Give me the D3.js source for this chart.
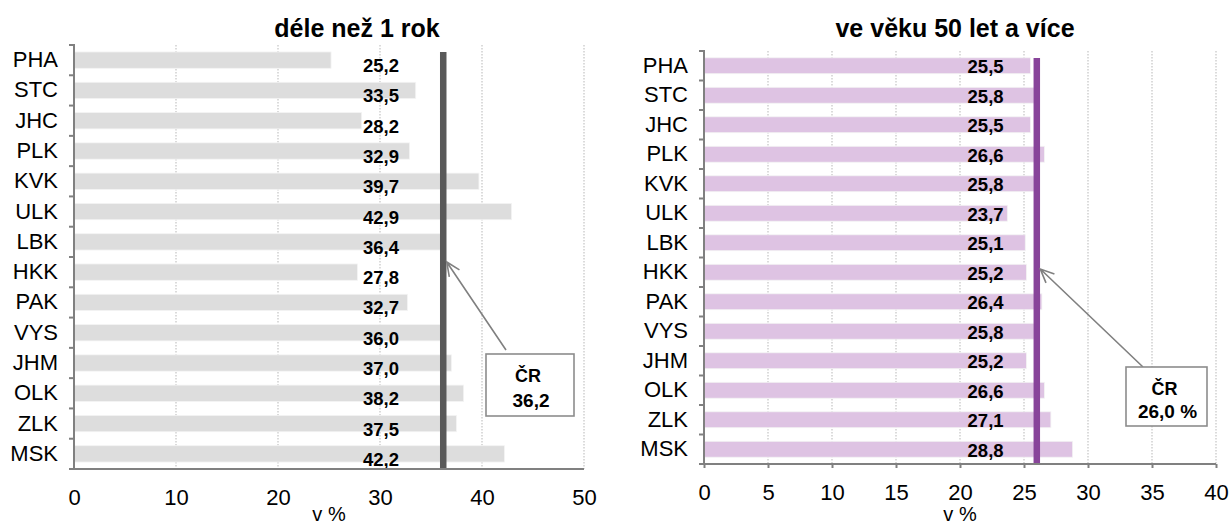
<!DOCTYPE html>
<html>
<head>
<meta charset="utf-8">
<script src="https://cdn.jsdelivr.net/npm/d3@7"></script>
<style>
  body { margin: 0; background: #fff; }
  text { font-family: "Liberation Sans", Arial, sans-serif; fill: #000; }
</style>
</head>
<body>
<svg id="chart" width="1231" height="528"></svg>
<script>
// kraje
const regions = ["PHA", "STC", "JHC", "PLK", "KVK", "ULK", "LBK", "HKK", "PAK", "VYS", "JHM", "OLK", "ZLK", "MSK"];

// podil nezamestnanych déle než 1 rok (v %)
const longTerm = [25.2, 33.5, 28.2, 32.9, 39.7, 42.9, 36.4, 27.8, 32.7, 36.0, 37.0, 38.2, 37.5, 42.2];
// podil nezamestnanych ve věku 50 let a více (v %)
const aged50 = [25.5, 25.8, 25.5, 26.6, 25.8, 23.7, 25.1, 25.2, 26.4, 25.8, 25.2, 26.6, 27.1, 28.8];

const ticksLong = [0, 10, 20, 30, 40, 50];
const ticksAged = [0, 5, 10, 15, 20, 25, 30, 35, 40];

const crLong = 36.2;
const crAged = 26.0;

const svg = d3.select("#chart");
const fmt = v => d3.format(".1f")(v).replace(".", ",");

function drawPanel(o) {
  const x = d3.scaleLinear().domain([0, o.max]).range([o.x0, o.x1]);
  const y = d3.scaleBand().domain(regions).range([o.y0, o.y1])
    .paddingInner(0.46).paddingOuter(0.23);
  const step = y.step();
  const g = svg.append("g");

  // title
  g.append("text")
    .attr("x", o.titleX).attr("y", 37)
    .attr("text-anchor", "middle")
    .style("font-size", "25px").style("font-weight", "bold")
    .text(o.title);

  // dotted gridlines
  g.append("g").selectAll("line")
    .data(o.ticks.filter(t => t > 0))
    .join("line")
    .attr("x1", d => x(d)).attr("x2", d => x(d))
    .attr("y1", o.y0).attr("y2", o.y1)
    .attr("stroke", "#c4c4c4").attr("stroke-width", 1.2)
    .attr("stroke-dasharray", "1.5,1.5");

  // bars
  g.append("g").selectAll("rect")
    .data(o.values)
    .join("rect")
    .attr("x", x(0))
    .attr("y", (d, i) => y(regions[i]))
    .attr("width", d => x(d) - x(0))
    .attr("height", y.bandwidth())
    .attr("fill", o.barColor)
    .attr("stroke", "#f4f4f4").attr("stroke-width", 0.8);

  // value labels
  g.append("g").selectAll("text")
    .data(o.values)
    .join("text")
    .attr("x", x(o.labelAt))
    .attr("y", (d, i) => y(regions[i]) + y.bandwidth() / 2 + o.labelDy)
    .attr("dy", "0.35em")
    .attr("text-anchor", "middle")
    .style("font-size", "18.5px").style("font-weight", "bold")
    .text(d => fmt(d));

  // CR line
  g.append("line")
    .attr("x1", x(o.cr)).attr("x2", x(o.cr))
    .attr("y1", o.lineTop).attr("y2", o.y1)
    .attr("stroke", o.lineColor).attr("stroke-width", 6.5);

  // axes
  const xa = g.append("g")
    .attr("transform", `translate(0,${o.y1})`)
    .call(d3.axisBottom(x).tickValues(o.ticks).tickSize(o.xTick).tickPadding(20 - o.xTick));
  xa.select(".domain").remove();
  xa.selectAll("line").attr("stroke", "#808080").attr("stroke-width", 2);
  xa.selectAll("text").style("font-size", "22px").attr("font-family", null);

  const ya = g.append("g")
    .attr("transform", `translate(${o.x0},0)`)
    .call(d3.axisLeft(y).tickSize(0).tickPadding(16));
  ya.select(".domain").remove();
  ya.selectAll("text").style("font-size", "22px").attr("font-family", null);

  // band boundary ticks
  g.append("g").selectAll("line")
    .data(d3.range(regions.length + 1))
    .join("line")
    .attr("x1", o.x0 - 5).attr("x2", o.x0)
    .attr("y1", i => o.y0 + i * step).attr("y2", i => o.y0 + i * step)
    .attr("stroke", "#808080").attr("stroke-width", 2);

  g.append("line")
    .attr("x1", o.x0).attr("x2", o.x0).attr("y1", o.y0 - 1).attr("y2", o.y1 + 1)
    .attr("stroke", "#808080").attr("stroke-width", 2);
  g.append("line")
    .attr("x1", o.x0).attr("x2", o.x1).attr("y1", o.y1).attr("y2", o.y1)
    .attr("stroke", "#808080").attr("stroke-width", 2);

  // axis title
  g.append("text")
    .attr("x", (o.x0 + o.x1) / 2).attr("y", 521)
    .attr("text-anchor", "middle")
    .style("font-size", "20px")
    .text("v %");

  // callout arrow
  const a = o.callout;
  const tipX = x(o.cr) + 3.5, tipY = a.tipY;
  const ang = Math.atan2(a.fromY - tipY, a.fromX - tipX);
  const arm = 15, spread = 0.42;
  g.append("path")
    .attr("d", `M${a.fromX},${a.fromY}L${tipX},${tipY}` +
      `M${tipX + arm * Math.cos(ang - spread)},${tipY + arm * Math.sin(ang - spread)}L${tipX},${tipY}` +
      `L${tipX + arm * Math.cos(ang + spread)},${tipY + arm * Math.sin(ang + spread)}`)
    .attr("fill", "none").attr("stroke", "#808080").attr("stroke-width", 1.6);

  g.append("rect")
    .attr("x", a.bx).attr("y", a.by).attr("width", a.bw).attr("height", a.bh)
    .attr("fill", "#fff").attr("stroke", "#8c8c8c").attr("stroke-width", 1.6);
  g.append("text")
    .attr("x", a.bx + a.bw / 2 - 2).attr("y", a.by + a.l1)
    .attr("text-anchor", "middle")
    .style("font-size", "18px").style("font-weight", "bold")
    .text("ČR");
  g.append("text")
    .attr("x", a.bx + a.bw / 2 + 1).attr("y", a.by + a.l2)
    .attr("text-anchor", "middle")
    .style("font-size", "19px").style("font-weight", "bold")
    .text(a.label);
}

drawPanel({
  title: "déle než 1 rok", titleX: 357,
  values: longTerm, ticks: ticksLong, max: 50, cr: crLong,
  x0: 74, x1: 584, y0: 45, y1: 469, xTick: 0,
  labelAt: 30.1, labelDy: 5.5, lineTop: 52,
  barColor: "#dddddd", lineColor: "#595959",
  callout: { fromX: 506, fromY: 350, tipY: 262, bx: 486, by: 354, bw: 88, bh: 62, l1: 28, l2: 53, label: "36,2" }
});

drawPanel({
  title: "ve věku 50 let a více", titleX: 955,
  values: aged50, ticks: ticksAged, max: 40, cr: crAged,
  x0: 704, x1: 1216, y0: 51, y1: 464, xTick: 4,
  labelAt: 22.0, labelDy: 1, lineTop: 58,
  barColor: "#dec3e3", lineColor: "#88449a",
  callout: { fromX: 1143, fromY: 367, tipY: 269, bx: 1126, by: 367, bw: 81, bh: 59, l1: 28, l2: 51, label: "26,0 %" }
});
</script>
</body>
</html>
